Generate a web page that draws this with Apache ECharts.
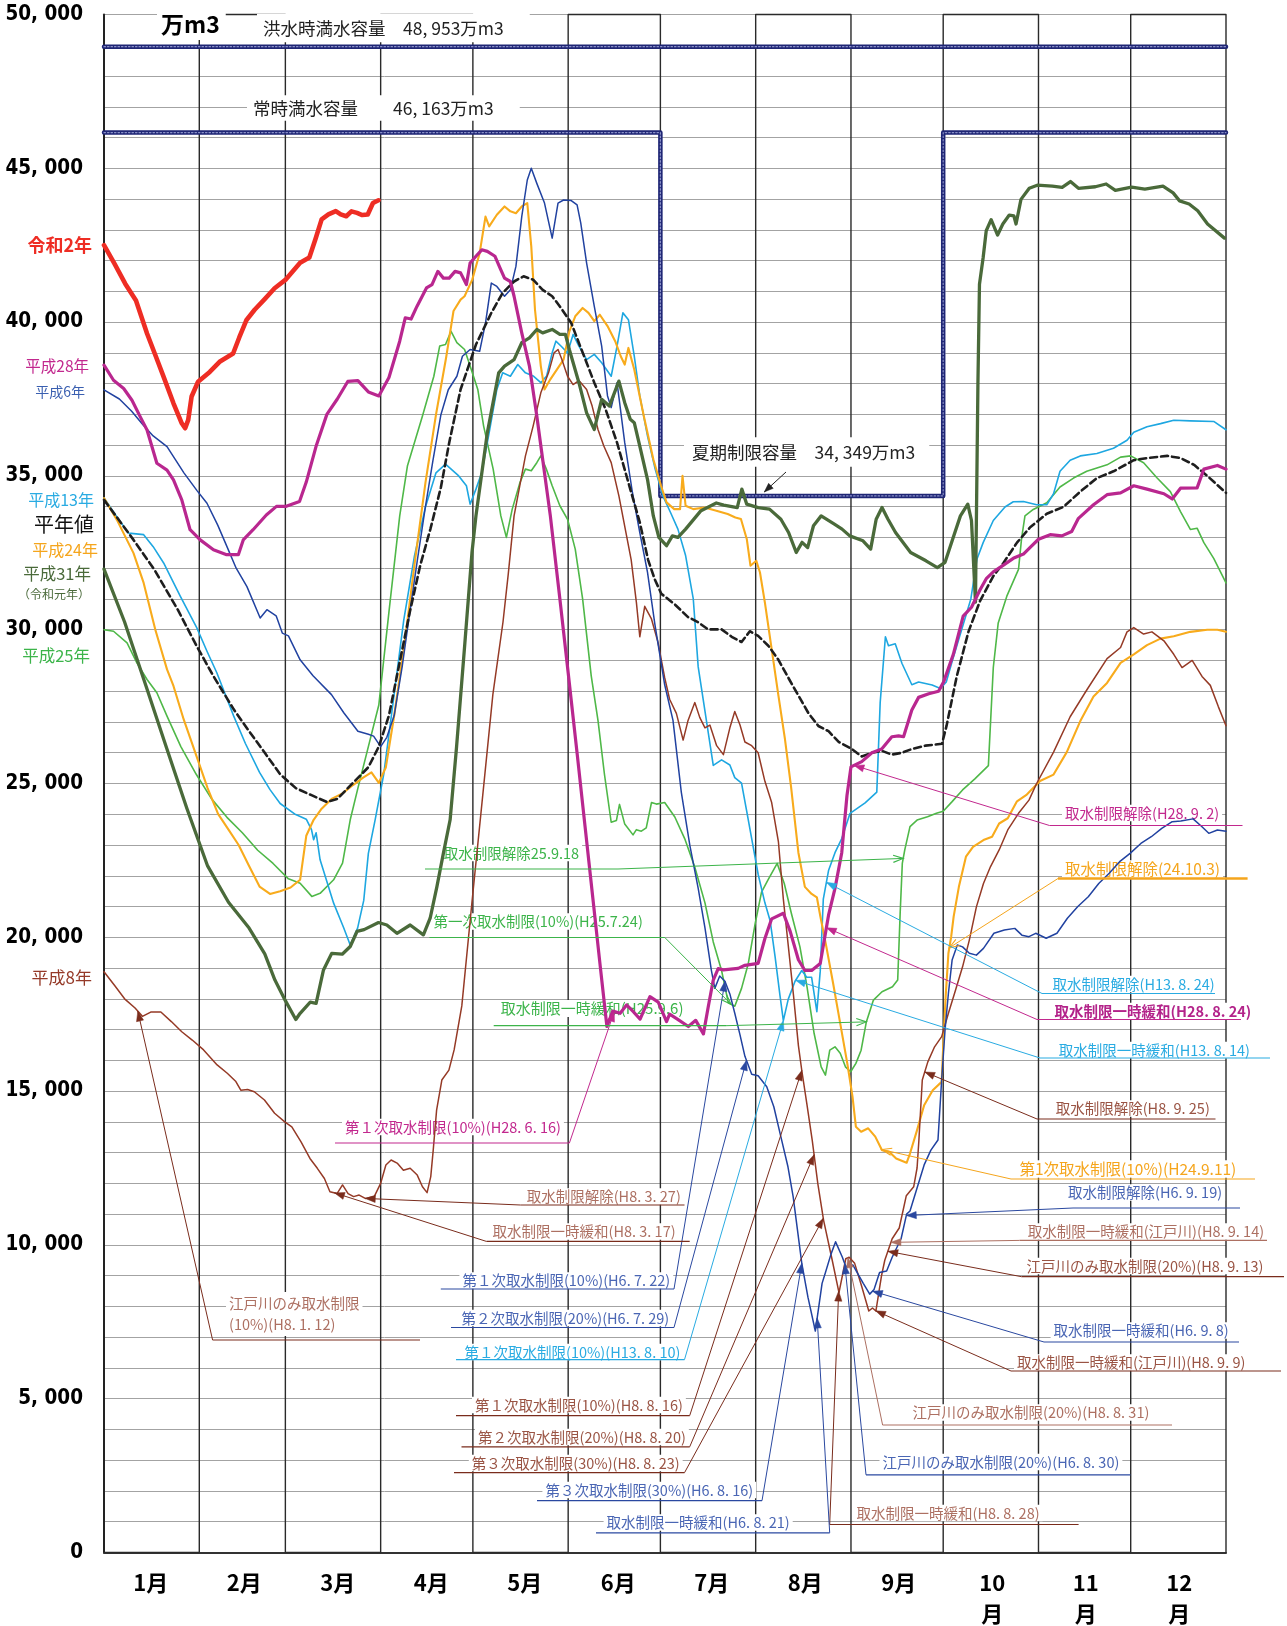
<!DOCTYPE html>
<html><head><meta charset="utf-8">
<script src="https://cdn.jsdelivr.net/npm/echarts@6/dist/echarts.min.js"></script>
<style>html,body{margin:0;padding:0;background:#fff}#c{width:1287px;height:1626px}</style>
</head><body><div id="c"></div>
<script>
// ---------- data (x = day of year, y = 万m3) ----------
const MONTH_EDGES = [0,31,59,90,120,151,181,212,243,273,304,334,365];
const MONTH_LABELS = ['1月','2月','3月','4月','5月','6月','7月','8月','9月','10\n月','11\n月','12\n月'];
const Y_MIN = 0, Y_MAX = 50000, Y_STEP = 1000, Y_LABEL_STEP = 5000;
const FLOOD_CAP = [[0,48953],[365,48953]];
const NORMAL_SUMMER_CAP = [[0,46163],[181,46163],[181,34349],[273,34349],[273,46163],[365,46163]];
const SUMMER_ARROW_DAY = 214.8, SUMMER_CAP = 34349;

const R2 = [[0,42500],[3.4,41900],[6.9,41250],[10.4,40700],[14,39630],[17,38850],[19.4,38220],[22.6,37360],[25.3,36710],[26.4,36550],[27.4,36820],[28.5,37580],[30.6,38060],[34.4,38380],[37.6,38710],[42,38980],[44,39500],[46.3,40060],[49,40400],[52.2,40740],[55.5,41100],[59.2,41390],[63.8,41930],[66.8,42100],[68.8,42700],[70.8,43340],[73,43500],[75.4,43610],[77,43500],[78.8,43440],[80.5,43600],[82.3,43550],[84,43480],[85.8,43500],[87.5,43870],[89.3,43960]];

const H28 = [[0,38600],[3.1,38110],[6.4,37840],[9.1,37460],[11.8,36920],[14,36490],[17.2,35410],[20.5,35190],[22.6,34870],[25.3,34220],[28,33250],[31.3,32920],[35.6,32600],[39.9,32440],[43.7,32440],[45.3,32920],[48.5,33250],[52.8,33730],[56.1,34010],[59.3,34010],[63.6,34170],[65.8,34800],[69.1,36000],[72.5,37000],[75.9,37500],[79.3,38070],[82.6,38100],[86,37730],[89.4,37600],[92.7,38200],[96.2,39380],[98,40140],[99.9,40100],[101.8,40510],[104.9,41110],[106.7,41220],[108.6,41650],[110.4,41430],[112.3,41430],[114.2,41650],[116,41600],[117.9,41220],[119.1,41920],[121,42140],[122.9,42350],[124.7,42300],[127.2,42140],[129.1,41700],[130.3,41430],[132.2,41320],[133.4,40840],[135.9,39650],[138.4,38570],[140.8,36950],[142.7,35540],[145.2,33700],[148.3,31000],[151,28600],[154,25900],[156.5,23600],[159,21300],[161.5,19000],[163.6,17100],[165.5,17600],[167.9,17530],[170,17800],[172.2,17580],[174.4,17340],[177.6,18070],[180.3,17890],[183,17260],[184,17500],[186.4,17350],[190.1,17100],[192.5,17300],[195,16860],[196.6,17760],[198.2,18610],[199.8,18980],[201.5,18940],[206.3,18990],[208.5,19090],[212.8,19150],[215,19960],[217.2,20600],[221,20780],[223.2,20200],[225.9,19270],[228,18920],[230.2,18920],[233,19150],[235.7,20720],[237.8,21590],[240,22750],[241.7,24610],[243,25540],[246.5,25710],[249.8,26000],[253,26120],[256.3,26520],[258.5,26550],[260.1,26520],[262.8,27390],[265,27800],[268.3,27920],[271.5,28000],[273.2,28320],[276.3,29200],[279.5,30440],[282.2,30730],[285,31300],[287.1,31670],[289.3,31880],[292.6,32100],[295.8,32320],[299.1,32460],[301.3,32680],[304,32940],[307.8,33090],[311.6,33050],[314.8,33190],[317,33620],[321.9,34060],[326.3,34390],[330.7,34450],[335,34680],[339.3,34570],[344.8,34420],[347.5,34250],[350.2,34600],[355.6,34610],[357.8,35220],[362.2,35340],[365,35220]];

const H6 = [[0,37800],[5,37500],[9,37100],[12.8,36650],[16,36300],[20.5,35950],[26,35100],[30.2,34530],[33.5,34110],[37,33400],[40,32700],[43,32000],[46.5,31400],[50.8,30380],[53,30650],[56,30450],[58,29890],[60,29800],[63.8,29020],[68,28500],[74,27890],[78,27300],[82.6,26700],[86,26600],[87.7,26540],[90,26200],[92,26500],[94.4,27210],[97,28800],[99.5,30580],[102,32300],[104.5,33960],[107,35500],[109.6,36990],[112,37800],[114.8,38240],[116.6,38890],[119.1,39110],[122.2,39050],[124.1,39970],[126,41270],[127.8,41160],[130.3,40840],[132.2,41050],[134,41810],[135.9,43430],[137.7,44620],[139,45000],[140.8,44510],[143.3,43870],[145.8,42730],[147.7,43870],[149.5,43970],[152,43950],[153.9,43810],[155.1,43220],[157,41920],[159.5,40510],[161.9,39220],[163.8,37600],[165,37220],[166.9,38030],[169.4,36080],[171.9,34460],[174.3,33160],[176.8,31870],[179.2,30180],[182.4,28210],[185.1,27050],[187.8,24720],[190.6,22980],[193.3,21590],[195.5,20310],[197.6,18920],[198.7,18340],[200.3,18740],[202,18570],[203.6,18160],[205.2,17530],[206.9,16830],[208.5,16130],[210.7,15550],[212.8,15500],[215.6,15140],[217.9,14490],[220.2,13510],[222.5,12540],[224.2,11560],[227,9400],[229,8300],[231.4,7200],[233.6,8750],[234.7,9100],[236.5,9700],[238,10100],[240.2,9600],[241.3,9300],[243.6,9350],[247,8750],[249.1,8400],[250.5,8550],[252.3,9100],[254.6,9150],[256.4,9600],[259.3,10200],[261.1,11000],[262.2,11100],[264.5,11850],[266.8,12600],[269,13080],[271.3,13410],[272.5,15360],[273.6,16990],[274.7,18180],[275.9,19260],[277.6,19750],[279.3,19690],[281.5,19480],[283.8,19420],[286.1,19640],[289.5,20130],[292.9,20240],[296.3,20290],[298.6,20070],[300.9,20020],[303.1,20130],[306.5,19970],[310,20130],[313.4,20620],[316.8,21000],[320.2,21320],[323.6,21750],[327,22080],[330.4,22460],[333.8,22730],[337.3,23050],[340.7,23270],[344.1,23540],[347.5,23760],[350.3,23780],[354.3,23850],[357.1,23600],[359.4,23380],[362.2,23490],[365,23450]];

const H13 = [[0,34280],[4,33700],[8,33140],[12.9,33090],[16,32700],[19.4,32170],[24.8,31090],[30.2,30060],[33.5,29300],[36.7,28600],[42.2,27190],[46,26300],[50.6,25360],[54,24800],[57.3,24350],[62,24010],[65.8,23840],[67.5,23500],[68.2,23170],[69,23400],[70.3,22520],[74.7,21110],[78,20300],[80.1,19750],[82.5,20300],[84.5,21200],[86,22730],[88.2,23820],[91,25300],[94,27600],[97.5,30300],[101,32400],[104.6,34000],[108,35100],[111.1,35380],[115.4,35000],[117.9,34680],[119.1,34080],[121,34570],[122.9,35110],[125.3,36410],[127.8,37810],[129.7,38350],[132.2,38240],[134.6,38620],[137.1,38350],[139.6,38250],[142.1,38030],[144,38250],[145.8,39000],[147,39380],[148.9,39200],[150.8,39000],[152.6,39600],[154.5,39220],[157,38780],[159.5,38950],[161.9,38680],[165,38240],[166.9,39220],[168.8,40300],[170.6,40080],[172.5,38890],[174.3,37600],[176.8,36300],[179.3,35220],[181.8,34350],[184.3,33810],[186.7,33270],[189.2,32410],[191.7,31000],[193.3,28790],[198.2,25590],[200.9,25770],[203.6,25600],[205.2,25190],[207.4,25010],[209,24140],[210.7,23210],[212.8,22050],[215,21120],[216.7,20540],[218.3,19380],[219.9,18110],[221,17290],[222.6,17990],[224.8,18570],[227,18920],[228.6,18700],[230.2,18700],[231.9,17580],[233,18900],[234,21240],[235.7,22170],[237.8,22750],[240,23210],[242.7,24030],[247.6,24370],[251.4,24720],[252.5,27630],[254.2,29770],[255.2,29480],[257.4,29540],[259.6,28900],[262.8,28210],[265,28300],[269.4,28200],[272.1,28090],[274,28300],[276,29000],[279,30000],[282,31000],[284,32300],[286,32830],[289.3,33550],[293.1,33990],[295.8,34160],[299.1,34170],[303.4,34060],[306.7,34060],[308.9,34420],[311,35150],[314.3,35510],[317.6,35650],[323,35730],[328.4,35900],[332.8,36160],[335,36420],[339.3,36600],[343.7,36700],[348,36810],[353.4,36790],[361,36770],[365,36500]];

const AVG = [[0,34220],[4,33680],[9.6,32920],[16.4,31950],[24,30650],[30.2,29460],[35.6,28490],[42.2,27410],[47.2,26700],[52.3,26000],[57.3,25300],[62.4,24850],[67.5,24620],[72.5,24400],[75.9,24500],[81,25020],[86,25530],[89.4,26200],[92.7,27210],[96.1,28900],[99.5,30580],[102.9,32100],[106.2,33280],[109.6,34630],[112.3,36080],[116,37810],[121,39270],[126,40300],[129.7,40950],[133.4,41320],[136.5,41490],[139.6,41380],[142.7,41050],[145.8,40840],[148.3,40510],[152,39970],[154.5,39320],[157,38680],[159.5,38030],[163.2,37160],[166.9,36080],[170.6,34780],[174.3,33490],[177,32270],[179.2,31630],[181.3,31170],[185.7,30820],[190,30410],[193.3,30240],[196.5,30010],[200.9,30010],[204.2,29770],[207.4,29600],[210.1,29950],[212.8,29800],[216.1,29480],[219.4,29020],[222.6,28440],[225.9,27860],[229.2,27280],[232.4,26870],[235.7,26700],[239,26350],[243.3,26120],[246.5,25880],[249.8,26000],[253.1,26060],[256.3,25940],[259.6,26000],[262.8,26120],[267.2,26230],[272.6,26290],[274.1,26880],[277.4,28480],[281.2,29930],[285,30940],[289.3,31740],[292.6,32170],[297,32830],[301.3,33330],[306.7,33770],[312.1,33990],[317.6,34490],[323,34930],[328.4,35150],[335,35510],[339.3,35580],[345.9,35650],[350.2,35580],[354.6,35360],[358.9,35000],[365,34450]];

const H24 = [[0,34280],[4.2,33570],[9.6,32490],[12.9,31520],[16.7,30000],[20.5,28710],[22.6,28170],[25.9,27090],[30.4,25800],[33.7,24850],[37.1,24010],[40.5,23500],[43.8,23000],[47.2,22320],[50.6,21650],[54,21410],[57.3,21500],[60.7,21620],[63.8,21870],[65.8,23300],[68.2,23820],[70.8,24180],[74.2,24510],[77.6,24680],[81,24950],[84.3,25190],[87,25360],[89.4,25020],[91.7,25530],[94.4,27210],[97.8,29570],[101.2,32270],[104.6,34800],[108,36990],[111.3,38850],[113.7,40360],[116,40730],[117.3,40840],[119.8,41380],[122.2,42240],[124.1,43430],[125.3,43110],[127.8,43490],[130.3,43760],[132.2,43600],[134,43540],[135.9,43760],[137.7,43870],[139,42460],[140.2,40410],[142.1,38570],[143.3,37810],[145.2,38140],[147.7,38510],[149.5,38780],[151.4,39700],[153.3,40190],[155.7,40460],[157.6,40300],[159.5,40030],[161.3,40240],[163.8,39870],[166.3,39380],[168.1,38890],[169.4,38620],[170.6,39160],[172.5,38460],[175.6,36950],[178.7,35540],[181.2,34680],[183,34140],[185.5,33920],[187.4,33920],[188.2,35000],[189.2,34030],[191.7,33920],[195.4,33970],[199.2,33870],[202.9,33760],[205.4,33650],[207.2,33600],[209.1,32950],[210.3,32080],[212.2,32240],[213.4,31860],[215,30880],[217.2,29370],[219.4,27860],[221.5,26460],[223.5,24900],[225.9,22750],[228,21640],[230.2,21410],[231.9,21300],[233,20700],[235,19690],[237.2,18500],[239.5,17200],[241.8,15900],[243.5,14820],[244.6,13840],[246.3,13680],[248.6,13790],[250.9,13520],[253.1,13080],[255.4,13030],[257.7,12810],[261.1,12670],[262.2,12970],[264.5,13730],[266.8,14540],[269.6,15030],[272.5,15300],[273,16440],[273.8,18070],[274.7,19480],[275.6,20020],[276.4,20670],[278.1,21640],[280.4,22620],[282.7,22940],[286.1,23160],[288.9,23270],[291.2,23700],[294,23870],[297,24420],[300.2,24640],[304.5,25080],[308.9,25290],[313.2,26020],[317.6,27030],[321.9,27830],[326.3,28270],[330.7,28920],[335,29200],[339.3,29500],[343.7,29710],[348,29790],[353.4,29930],[358.9,30000],[362.2,30000],[365,29930]];

const H31 = [[0,31970],[6.7,30250],[13.5,28220],[20.2,26200],[27,24180],[33.7,22320],[40.5,21140],[47.2,20300],[52.3,19460],[55.6,18610],[59,17940],[62.4,17330],[63.8,17530],[67.1,17890],[69,17850],[71.4,18940],[74.1,19480],[77.5,19450],[80.1,19700],[82.3,20190],[84.6,20250],[89.3,20480],[92,20400],[95.3,20130],[99.6,20400],[103.9,20080],[106.1,20620],[108.3,21650],[110.4,22730],[112.6,23820],[114.7,26200],[117.4,29570],[119.7,32500],[121,33700],[124.7,36400],[128.4,38350],[130.3,38570],[133.4,38780],[135.9,39330],[138.4,39490],[140.8,39760],[142.7,39650],[145.8,39760],[148.3,39600],[150.1,39600],[151.4,39100],[154.5,38030],[157,37050],[159.5,36510],[161.9,37490],[164.4,37270],[167.5,38080],[169.4,37380],[171.2,36840],[172.5,36730],[174.3,35970],[176.8,34890],[178.7,33700],[180.5,33000],[183,32730],[184.9,33050],[186.7,33000],[189.2,33270],[194.2,33870],[199.2,34120],[201.6,34050],[206,33970],[207.5,34570],[209.1,34080],[212.8,33970],[216.5,33920],[220.2,33590],[222.7,33160],[225.2,32510],[227.1,32840],[228.9,32670],[230.8,33380],[233.3,33700],[237.6,33430],[240.1,33270],[242.6,33050],[246.9,32890],[249.4,32620],[251.2,33590],[253.1,33970],[255,33600],[257.5,33160],[262.4,32510],[267.4,32240],[271.1,32020],[273.6,32190],[276.1,32950],[278.6,33700],[281,34080],[282.2,33550],[283.5,30900],[284.3,38000],[284.8,41230],[286,42100],[287,42970],[288.6,43330],[290.7,42830],[292.4,43190],[294.5,43480],[296,43450],[296.7,43190],[298.3,43990],[301,44350],[303.6,44450],[308.5,44420],[311.7,44380],[314.4,44570],[317,44350],[322.5,44400],[326,44490],[329,44280],[334.3,44390],[338.6,44320],[344.5,44420],[347.8,44200],[349.9,43940],[353,43840],[355.8,43620],[359,43190],[364.5,42730]];

const H25 = [[0,30000],[3.1,29950],[7.5,29570],[10.7,28920],[14,28380],[17.2,27950],[20.5,27190],[25,26200],[30,25300],[35,24500],[40,23900],[45,23400],[50,22830],[55,22400],[60,21900],[63.8,21760],[67.6,21330],[70.3,21430],[74.7,21870],[77.6,22410],[80.1,23820],[82.6,24850],[86,26200],[89.4,27550],[92.7,30580],[96.2,33700],[98.7,35320],[103.6,36950],[107.3,38240],[109.2,39220],[111.1,39270],[112.9,39700],[114.8,39330],[117.3,39110],[119.1,38570],[121.6,37810],[123.5,36620],[126.6,35220],[129.1,33700],[130.9,33000],[132.8,33920],[135.3,34780],[137.1,35220],[139,35170],[140.8,35430],[142.1,35650],[143.9,35220],[145.8,34680],[148.3,34030],[150.8,33590],[153.3,32620],[155.7,31000],[158.5,28500],[160.7,27050],[162.8,25300],[165,23740],[166.7,23800],[167.7,24320],[169.4,23680],[172.1,23330],[173.2,23500],[174.8,23450],[176.4,23560],[178.1,24380],[179.7,24330],[182.4,24380],[185.7,23910],[188.9,23210],[192.2,22280],[195.5,21120],[198.2,19850],[200.9,18920],[203.1,17870],[205.2,17760],[207.4,18340],[209.6,19150],[211.8,20430],[213.9,21470],[216.1,21880],[219,22400],[221.3,21750],[223.6,20780],[226.4,19690],[228.7,18390],[231,16880],[233.3,15790],[234.7,15520],[236.1,16330],[237.8,16440],[239.5,16230],[241.2,15790],[242.9,15630],[244.6,15900],[246.3,16330],[248,17250],[250.3,17960],[253.1,18230],[256.5,18390],[258.2,18610],[259,20780],[259.7,22400],[260.5,22840],[262.2,23600],[264.5,23810],[267.9,23920],[270.8,24030],[273,24100],[275.9,24410],[279.3,24790],[283.3,25150],[287.7,25580],[289.3,28770],[290.9,30220],[293.7,31090],[297.5,31960],[298.5,32970],[299.6,33700],[302.3,33910],[306.7,34130],[311,34640],[315.4,34930],[319.7,35150],[326.3,35360],[330.7,35610],[334,35650],[338.2,35430],[342.6,34930],[346.9,34490],[350.2,33840],[353.4,33260],[355.6,33300],[357.8,32830],[361,32320],[365,31520]];

const H8 = [[0,18880],[3.4,18440],[6.7,18000],[10.1,17700],[12.5,17430],[15.2,17570],[18.5,17570],[21.9,17260],[25.3,16930],[28.7,16660],[32.4,16340],[36.8,15850],[40.1,15580],[42.9,15310],[44.5,15030],[46.7,15050],[48.9,14980],[52.2,14710],[55.5,14280],[58.8,14000],[61.1,13840],[64.1,13350],[67,12810],[69.4,12490],[71.7,12160],[73.5,11730],[75.8,11670],[77.6,11950],[79.4,11670],[81.2,11570],[83,11620],[85,11510],[87.9,11570],[90,12000],[91.7,12600],[93.4,12760],[95.5,12650],[97.4,12430],[99.6,12490],[101.9,12270],[103.6,11890],[105.1,11700],[106.3,12220],[107.1,13080],[108.2,14380],[109.9,15360],[112.2,15680],[113.9,16340],[116.4,17770],[119.7,21140],[123.1,24510],[126.5,27890],[129.8,30250],[131.5,31800],[133.4,33700],[137.1,35650],[139.6,36620],[142.1,37700],[144.6,38350],[146.4,39000],[147.7,39110],[148.9,38800],[150.8,38240],[152.6,37970],[154.5,38100],[157,37810],[158.8,37270],[160.7,36510],[162.6,35970],[165,35430],[167.5,34350],[170,33050],[171.5,32270],[173.2,30880],[174.3,29770],[175.9,30760],[178.1,30350],[180.2,29600],[182.4,28440],[184,27740],[186.2,27280],[188.4,26410],[190,27050],[192.2,27630],[193.8,27150],[195.5,26810],[197.1,26900],[199.3,26230],[201.5,25940],[203.6,26810],[205.2,27340],[206.9,26900],[208.5,26350],[210.7,26230],[212.8,26000],[215,25070],[217.2,24380],[219.4,23100],[221,21240],[222.6,19730],[224.3,18110],[225.9,16480],[227,15670],[228.6,14620],[230.4,13400],[232.2,12000],[234.1,10800],[236.9,9500],[239.1,8450],[241.3,9550],[242.4,9600],[244.2,9400],[246.5,8650],[248.8,7850],[250,7950],[251.1,7850],[252.9,8980],[254,9500],[256.4,10200],[258.7,10550],[261,11600],[263.4,11890],[264.5,12500],[265.1,13410],[266.2,15360],[268,15950],[270.2,16440],[272.5,16770],[274.7,17530],[277,18280],[279.3,19040],[281.5,19910],[283.8,20990],[286.1,21750],[288.4,22300],[291.2,22840],[294,23490],[297.5,24030],[300.9,24460],[303.4,25000],[308.9,26020],[314.3,27170],[319.7,28040],[326.3,29060],[330.7,29420],[332.8,29930],[335,30070],[338.2,29860],[340.9,29930],[344.8,29640],[348,29200],[350.7,28770],[354,29000],[357.2,28480],[359.9,28190],[362.5,27500],[365,26880]];

const SER = {R2, H28, H6, H13, AVG, H24, H31, H25, H8};

// ---------- annotations (label layout in px; target = series at date) ----------
const C_MAG='#c2288e', C_ORA='#f5a51c', C_LB='#29abe2', C_BLT='#4a66b4', C_BLL='#2a48a0', C_BRT='#9a5444', C_BRL='#7a2c1c', C_BRT2='#ad7062', C_GR='#3cb44a';
const ANN = [
 {t:'取水制限解除(H28. 9. 2)', c:C_MAG, l:C_MAG, x:1062, y:813, u1:1049.5, u2:1242.5, uy:825.5, side:'L', s:'H28', d:244},
 {t:'取水制限解除(24.10.3)', c:C_ORA, l:C_ORA, fs:15.5, x:1062, y:869, u1:1058, u2:1247.6, uy:878.5, side:'L', s:'H24', d:275, open:true, uw:2.4},
 {t:'取水制限解除(H13. 8. 24)', c:C_LB, l:C_LB, x:1049.5, y:984, u1:1042, u2:1215, uy:993.5, side:'L', s:'H13', d:235},
 {t:'取水制限一時緩和(H28. 8. 24)', c:'#b3238a', l:C_MAG, fw:'bold', x:1051.6, y:1011, u1:1037, u2:1241, uy:1019.5, side:'L', s:'H28', d:235},
 {t:'取水制限一時緩和(H13. 8. 14)', c:C_LB, l:C_LB, x:1055.8, y:1050, u1:1040, u2:1270, uy:1058, side:'L', s:'H13', d:225},
 {t:'取水制限解除(H8. 9. 25)', c:C_BRT, l:C_BRL, x:1052.7, y:1108.5, u1:1037, u2:1215.5, uy:1119, side:'L', s:'H8', d:267},
 {t:'第1次取水制限(10%)(H24.9.11)', c:C_ORA, l:C_ORA, fs:15.5, x:1016.4, y:1169, u1:1011, u2:1255, uy:1179, side:'L', s:'H24', d:253, open:true},
 {t:'取水制限解除(H6. 9. 19)', c:C_BLT, l:C_BLL, x:1065, y:1192.5, u1:1073, u2:1240, uy:1208, side:'L', s:'H6', d:261},
 {t:'取水制限一時緩和(江戸川)(H8. 9. 14)', c:C_BRT2, l:C_BRT2, x:1024.7, y:1231.5, u1:1019.5, u2:1267, uy:1240.4, side:'L', s:'H8', d:256},
 {t:'江戸川のみ取水制限(20%)(H8. 9. 13)', c:C_BRT, l:C_BRL, x:1023.6, y:1266, u1:1021.5, u2:1284, uy:1276.7, side:'L', s:'H8', d:255},
 {t:'取水制限一時緩和(H6. 9. 8)', c:C_BLT, l:C_BLL, x:1050.6, y:1330.5, u1:1044, u2:1239, uy:1342, side:'L', s:'H6', d:250},
 {t:'取水制限一時緩和(江戸川)(H8. 9. 9)', c:C_BRT, l:C_BRL, x:1014, y:1362.5, u1:1011, u2:1281, uy:1371, side:'L', s:'H8', d:251},
 {t:'江戸川のみ取水制限(20%)(H8. 8. 31)', c:C_BRT2, l:C_BRT2, x:909.5, y:1412.5, u1:882.6, u2:1172, uy:1425, side:'L', s:'H8', d:242},
 {t:'江戸川のみ取水制限(20%)(H6. 8. 30)', c:C_BLT, l:C_BLL, x:879.5, y:1462, u1:866, u2:1130.4, uy:1474.8, side:'L', s:'H6', d:241},
 {t:'取水制限一時緩和(H8. 8. 28)', c:C_BRT2, l:C_BRL, x:853.5, y:1513, u1:829.7, u2:1078.6, uy:1524.5, side:'L', s:'H8', d:239},
 {t:'取水制限一時緩和(H6. 8. 21)', c:C_BLT, l:C_BLL, x:603.6, y:1522.5, u1:596, u2:829.7, uy:1532.8, side:'R', s:'H6', d:232},
 {t:'第３次取水制限(30%)(H6. 8. 16)', c:C_BLT, l:C_BLL, x:542.4, y:1490, u1:537, u2:762, uy:1500.7, side:'R', s:'H6', d:227},
 {t:'第３次取水制限(30%)(H8. 8. 23)', c:C_BRT, l:C_BRL, x:468.8, y:1463, u1:454, u2:684.5, uy:1472.7, side:'R', s:'H8', d:234},
 {t:'第２次取水制限(20%)(H8. 8. 20)', c:C_BRT, l:C_BRL, x:475, y:1437, u1:461.5, u2:689.7, uy:1446.8, side:'R', s:'H8', d:231},
 {t:'第１次取水制限(10%)(H8. 8. 16)', c:C_BRT, l:C_BRL, x:472, y:1405, u1:456, u2:689.7, uy:1415.6, side:'R', s:'H8', d:227},
 {t:'第１次取水制限(10%)(H13. 8. 10)', c:C_LB, l:C_LB, x:461.5, y:1352, u1:456, u2:684.5, uy:1359.6, side:'R', s:'H13', d:221},
 {t:'第２次取水制限(20%)(H6. 7. 29)', c:C_BLT, l:C_BLL, x:458.4, y:1318, u1:451, u2:674, uy:1327.5, side:'R', s:'H6', d:209},
 {t:'第１次取水制限(10%)(H6. 7. 22)', c:C_BLT, l:C_BLL, x:459.4, y:1280.5, u1:440.8, u2:674, uy:1289, side:'R', s:'H6', d:202},
 {t:'江戸川のみ取水制限\n(10%)(H8. 1. 12)', c:C_BRT2, l:C_BRL, x:226, y:1314, lh:21, u1:212.6, u2:420, uy:1340, side:'L', s:'H8', d:11},
 {t:'取水制限解除(H8. 3. 27)', c:C_BRT2, l:C_BRL, x:523.7, y:1196.5, u1:520.6, u2:684.5, uy:1205, side:'L', s:'H8', d:85},
 {t:'取水制限一時緩和(H8. 3. 17)', c:C_BRT2, l:C_BRL, x:489.5, y:1231.5, u1:486.4, u2:689.7, uy:1241.4, side:'L', s:'H8', d:75},
 {t:'第１次取水制限(10%)(H28. 6. 16)', c:C_MAG, l:C_MAG, x:342, y:1127, u1:335, u2:569.4, uy:1143, side:'R', s:'H28', d:166},
 {t:'取水制限解除25.9.18', c:C_GR, l:C_GR, x:440.8, y:853, u1:425, u2:618, uy:869, side:'R', s:'H25', d:260, open:true},
 {t:'第一次取水制限(10%)(H25.7.24)', c:C_GR, l:C_GR, x:430.4, y:921.5, u1:429.4, u2:664.8, uy:937.5, side:'R', s:'H25', d:204, open:true},
 {t:'取水制限一時緩和(H25.9.6)', c:C_GR, l:C_GR, fs:15, x:497.8, y:1008.5, u1:493.7, u2:726, uy:1025.7, side:'R', s:'H25', d:248, open:true}
];

const LEFT_LABELS = [
 {t:'令和2年', c:'#ee2d24', fs:18, fw:'bold', x:92, y:245},
 {t:'平成28年', c:C_MAG, fs:15.5, x:89, y:366},
 {t:'平成6年', c:'#3a5fb0', fs:14, x:85, y:392},
 {t:'平成13年', c:C_LB, fs:16, x:94, y:500},
 {t:'平年値', c:'#111', fs:20, x:94, y:524},
 {t:'平成24年', c:C_ORA, fs:16, x:98, y:550},
 {t:'平成31年', c:'#4a6a3a', fs:16.5, x:91, y:573.5},
 {t:'（令和元年）', c:'#4a6a3a', fs:12, x:90, y:594},
 {t:'平成25年', c:C_GR, fs:16.5, x:90, y:655.5},
 {t:'平成8年', c:'#953a28', fs:17, x:92, y:978}
];

// ---------- helpers ----------
const JP = '"Noto Sans CJK JP", "Noto Sans", sans-serif';
const NUM = '"Liberation Sans Narrow", "DejaVu Sans Condensed", "Liberation Sans", sans-serif';
function valueAt(arr, d){
  for (let i=1;i<arr.length;i++){
    if (arr[i][0] >= d){ const a=arr[i-1], b=arr[i]; if (b[0]===a[0]) return b[1]; return a[1]+(b[1]-a[1])*(d-a[0])/(b[0]-a[0]); }
  }
  return arr[arr.length-1][1];
}
function arrowHead(x0,y0,x1,y1,color,open,L,W){
  L=L||10; W=W||3.6;
  const ang=Math.atan2(y1-y0,x1-x0), c=Math.cos(ang), s=Math.sin(ang);
  const bx=x1-L*c, by=y1-L*s;
  const p1=[bx - W*s, by + W*c], p2=[bx + W*s, by - W*c];
  if (open) return {type:'polyline', shape:{points:[p1,[x1,y1],p2]}, style:{stroke:color, lineWidth:1.1, fill:null}};
  return {type:'polygon', shape:{points:[[x1,y1],p1,p2]}, style:{fill:color, stroke:color, lineWidth:0.5}};
}
// month frame (square wave of month boundaries)
const FRAME = [[MONTH_EDGES[0], Y_MIN]];
for (let i=0;i<12;i++){ const lvl = i%2===0 ? Y_MIN : Y_MAX; FRAME.push([MONTH_EDGES[i+1], lvl]); FRAME.push([MONTH_EDGES[i+1], Y_MAX+Y_MIN-lvl]); }

function line(name, data, color, width, z, type){
  return {type:'line', name, data, symbol:'none', showSymbol:false, z, silent:true, animation:false,
    lineStyle:{color, width, type: type||'solid', cap:'round', join:'round'}};
}

const chart = echarts.init(document.getElementById('c'), null, {renderer:'canvas'});
const option = {
  animation:false,
  backgroundColor:'#fff',
  grid:{left:104, top:14.5, width:1122, height:1538, containLabel:false, outerBoundsMode:'none'},
  xAxis:[
    {type:'value', min:0, max:365, splitLine:{show:false}, axisTick:{show:false}, axisLabel:{show:false},
     axisLine:{show:true, lineStyle:{color:'#333', width:2}}},
    {type:'category', data:MONTH_LABELS, position:'bottom', boundaryGap:true, axisLine:{show:false}, axisTick:{show:false}, splitLine:{show:false},
     axisLabel:{show:true, interval:0, color:'#000', fontFamily:JP, fontWeight:'bold', fontSize:22, lineHeight:31, margin:15}}
  ],
  yAxis:{type:'value', min:Y_MIN, max:Y_MAX, interval:Y_STEP,
    axisLine:{show:true, lineStyle:{color:'#222', width:2}}, axisTick:{show:false},
    splitLine:{show:true, lineStyle:{color:'#a3a3a3', width:1}},
    axisLabel:{show:true, margin:21, color:'#000', fontFamily:NUM, fontWeight:'bold', fontSize:20.5,
      formatter:function(v){ if (v % Y_LABEL_STEP !== 0) return ''; if (v===0) return '0'; return (v/1000) + ', 000'; }}},
  graphic: [],
  series: [
    Object.assign(line('frame', FRAME, '#2a2a2a', 1.4, 1), {clip:false}),
    line('洪水時満水容量', FLOOD_CAP, '#1f2675', 4.5, 4),
    line('洪水時満水容量2', FLOOD_CAP, '#8a90c8', 1.2, 4.1, [1.5,2]),
    line('常時満水容量', NORMAL_SUMMER_CAP, '#1f2675', 4.5, 4),
    line('常時満水容量2', NORMAL_SUMMER_CAP, '#8a90c8', 1.2, 4.1, [1.5,2]),
    {type:'custom', name:'annText', coordinateSystem:'cartesian2d', z:3, clip:false, silent:true, animation:false,
      data: ANN.map(a=>[a.d, 0]), encode:{x:0,y:1},
      renderItem:function(params, api){
        const a=ANN[params.dataIndex];
        return {type:'text', x:a.x, y:a.y, style:{text:a.t, fill:a.c, font:(a.fw||'normal')+' '+(a.fs||14.5)+'px '+JP,
          align:'left', verticalAlign:'middle', backgroundColor:'#fff', padding:[1,3,1,3], lineHeight:a.lh||undefined}};
      }},
    line('平成25年', H25, '#4fb848', 1.6, 5),
    line('平成13年', H13, '#1ea7e1', 1.6, 6),
    line('平成24年', H24, '#f8ab1c', 2.1, 7),
    line('平成8年', H8, '#953a26', 1.5, 8),
    line('平成6年', H6, '#2142a0', 1.5, 9),
    line('平年値', AVG, '#1e1e1e', 2.6, 10, [7,4]),
    line('平成31年', H31, '#4a6a3a', 3.3, 11),
    line('平成28年', H28, '#b9278f', 3.2, 12),
    line('令和2年', R2, '#ee2d24', 4.6, 13),
    {type:'custom', name:'annLines', coordinateSystem:'cartesian2d', z:15, clip:false, silent:true, animation:false,
      data: ANN.map(a=>[a.d, 0]), encode:{x:0,y:1},
      renderItem:function(params, api){
        const a=ANN[params.dataIndex];
        const p=api.coord([a.d, valueAt(SER[a.s], a.d)]);
        const sx = a.side==='L' ? a.u1 : a.u2;
        return {type:'group', children:[
          {type:'line', shape:{x1:a.u1, y1:a.uy, x2:a.u2, y2:a.uy}, style:{stroke:a.l, lineWidth:a.uw||1.2}},
          {type:'line', shape:{x1:sx, y1:a.uy, x2:p[0], y2:p[1]}, style:{stroke:a.l, lineWidth:1}},
          arrowHead(sx, a.uy, p[0], p[1], a.l, a.open)
        ]};
      }},
    {type:'custom', name:'summerArrow', coordinateSystem:'cartesian2d', z:15, clip:false, silent:true, animation:false,
      data:[[SUMMER_ARROW_DAY, SUMMER_CAP]], encode:{x:0,y:1},
      renderItem:function(params, api){
        const p=api.coord([SUMMER_ARROW_DAY, SUMMER_CAP]);
        const tx=p[0], ty=p[1]-4;
        return {type:'group', children:[
          {type:'line', shape:{x1:786, y1:472, x2:tx, y2:ty}, style:{stroke:'#222', lineWidth:1}},
          arrowHead(786,472,tx,ty,'#222',false,9,3.4)
        ]};
      }}
  ]
};

// fixed texts
const g = [];
LEFT_LABELS.forEach(l=>g.push({type:'text', x:l.x, y:l.y, z:20, silent:true,
  style:{text:l.t, fill:l.c, font:(l.fw||'normal')+' '+l.fs+'px '+JP, align:'right', verticalAlign:'middle'}}));
g.push({type:'text', x:157, y:24, z:3, silent:true, style:{text:'万m3', fill:'#000', font:'bold 23px '+JP, align:'left', verticalAlign:'middle', backgroundColor:'#fff', padding:[6,6,3,4]}});
g.push({type:'text', x:257, y:28, z:3, silent:true, style:{text:'洪水時満水容量　48, 953万m3', fill:'#222', font:'normal 17.5px '+JP, align:'left', verticalAlign:'middle', backgroundColor:'#fff', padding:[7,26,4,6]}});
g.push({type:'text', x:247, y:108, z:3, silent:true, style:{text:'常時満水容量　　46, 163万m3', fill:'#222', font:'normal 17.5px '+JP, align:'left', verticalAlign:'middle', backgroundColor:'#fff', padding:[4,26,4,6]}});
g.push({type:'text', x:684, y:452, z:3, silent:true, style:{text:'夏期制限容量　34, 349万m3', fill:'#222', font:'normal 17.5px '+JP, align:'left', verticalAlign:'middle', backgroundColor:'#fff', padding:[6,14,6,8]}});
option.graphic = g;
chart.setOption(option);
</script></body></html>
